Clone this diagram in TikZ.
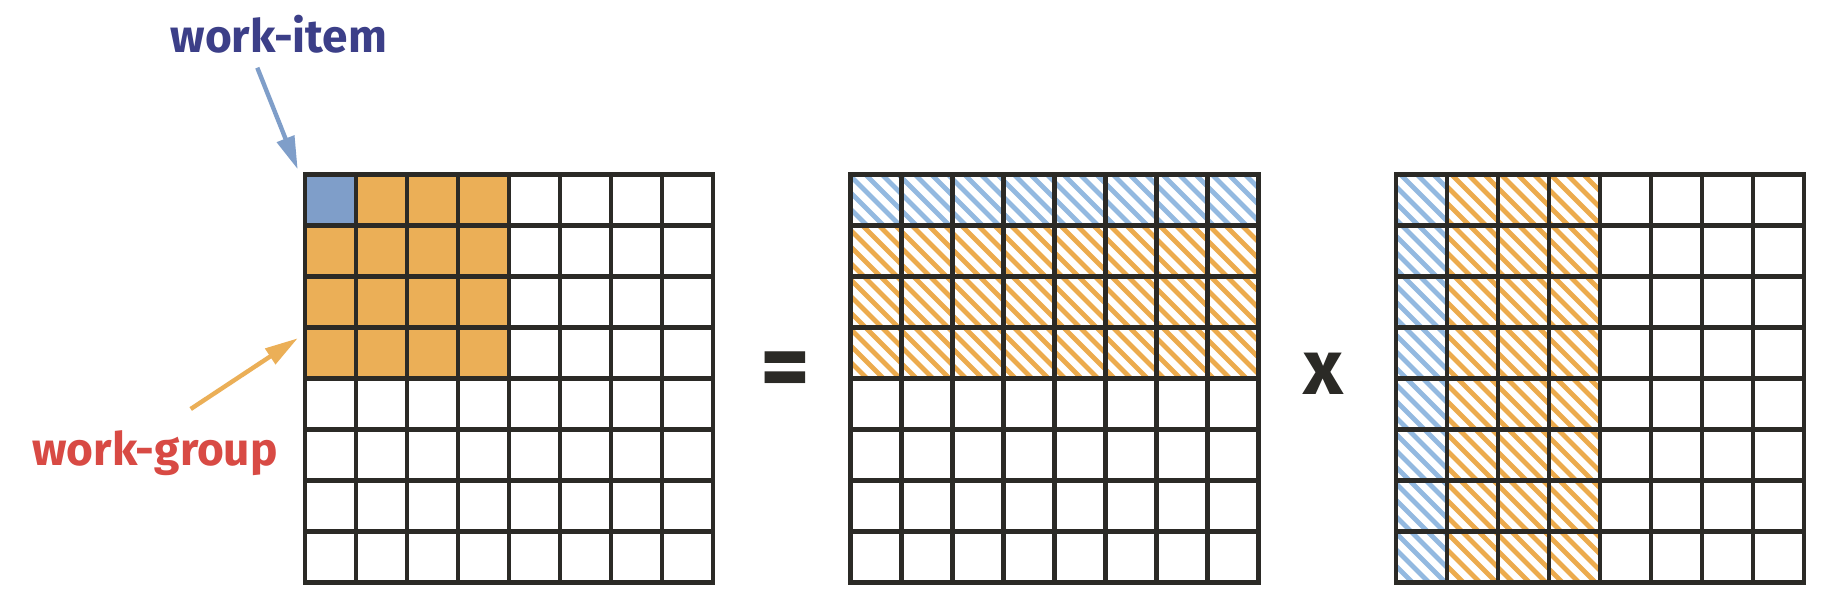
\documentclass[tikz,border=0pt]{standalone}
\usepackage{fontspec}
\setmainfont{Fira Sans}
\usetikzlibrary{arrows.meta}
\definecolor{gridc}{HTML}{2B2A26}
\definecolor{orfill}{HTML}{EBAF57}
\definecolor{blfill}{HTML}{7F9EC9}
\definecolor{orhatch}{HTML}{ECAB4D}
\definecolor{blhatch}{HTML}{93B9E0}
\definecolor{itemc}{HTML}{3C3F88}
\definecolor{groupc}{HTML}{D84A44}
\newcommand\hatchregion[5]{%
  \begin{scope}
    \clip (#1,#2) rectangle (#3,#4);
    \pgfmathsetmacro\hH{#4-#2}
    \pgfmathsetmacro\hs{#1-\hH}
    \pgfmathsetmacro\hn{#1-\hH+16.5}
    \foreach \k in {\hs,\hn,...,#3} \draw[hatchline,#5] (\k,#2) -- ++(\hH,\hH);
  \end{scope}}
\newcommand\gridlines[2]{%
  \foreach \i in {1,...,7} {
    \draw[gridline] ({#1+51*\i},#2) -- ++(0,408);
    \draw[gridline] (#1,{#2+51*\i}) -- ++(408,0);
  }
  \draw[gridline] (#1,#2) rectangle ++(408,408);}
\begin{document}
\begin{tikzpicture}[x=1pt,y=-1pt,
  gridline/.style={draw=gridc,line width=4.6pt},
  hatchline/.style={line width=4.8pt},
  lbl/.style={font=\fontsize{46}{50}\selectfont\bfseries,inner sep=0pt,anchor=base},
  opsign/.style={font=\fontsize{78}{80}\selectfont\bfseries,text=gridc,inner sep=0pt},
  pointer/.style={line width=4.4pt,-{Triangle[length=33pt,width=18pt]}}]
\useasboundingbox[fill=white] (0,0) rectangle (1826,604);
% grid 1 fills
\fill[orfill] (305,174.5) rectangle (509,378.5);
\fill[blfill] (305,174.5) rectangle (356,225.5);
\gridlines{305}{174.5}
% grid 2
\hatchregion{850.5}{174.5}{1258.5}{225.5}{blhatch}
\hatchregion{850.5}{225.5}{1258.5}{378.5}{orhatch}
\gridlines{850.5}{174.5}
% grid 3
\hatchregion{1396}{174.5}{1447}{582.5}{blhatch}
\hatchregion{1447}{174.5}{1600}{582.5}{orhatch}
\gridlines{1396}{174.5}
% labels
\node[lbl,text=itemc] (wi) at (278.8,52.7) {work-item};
\node[lbl,text=groupc] (wg) at (155,465.7) {work-group};
\coordinate (wis) at (257.3,67.7);
\coordinate (wit) at (297.7,169.3);
\coordinate (wgs) at (190.7,409);
\coordinate (wgt) at (297.7,338.3);
\draw[pointer,blfill] (wis) -- (wit);
\draw[pointer,orfill] (wgs) -- (wgt);
% operators
\node[opsign,font=\fontsize{96}{100}\selectfont\bfseries] (eq) at (785,375.8) {=};
\node[opsign] (times) at (1323.3,374) {x};
\end{tikzpicture}
\end{document}
